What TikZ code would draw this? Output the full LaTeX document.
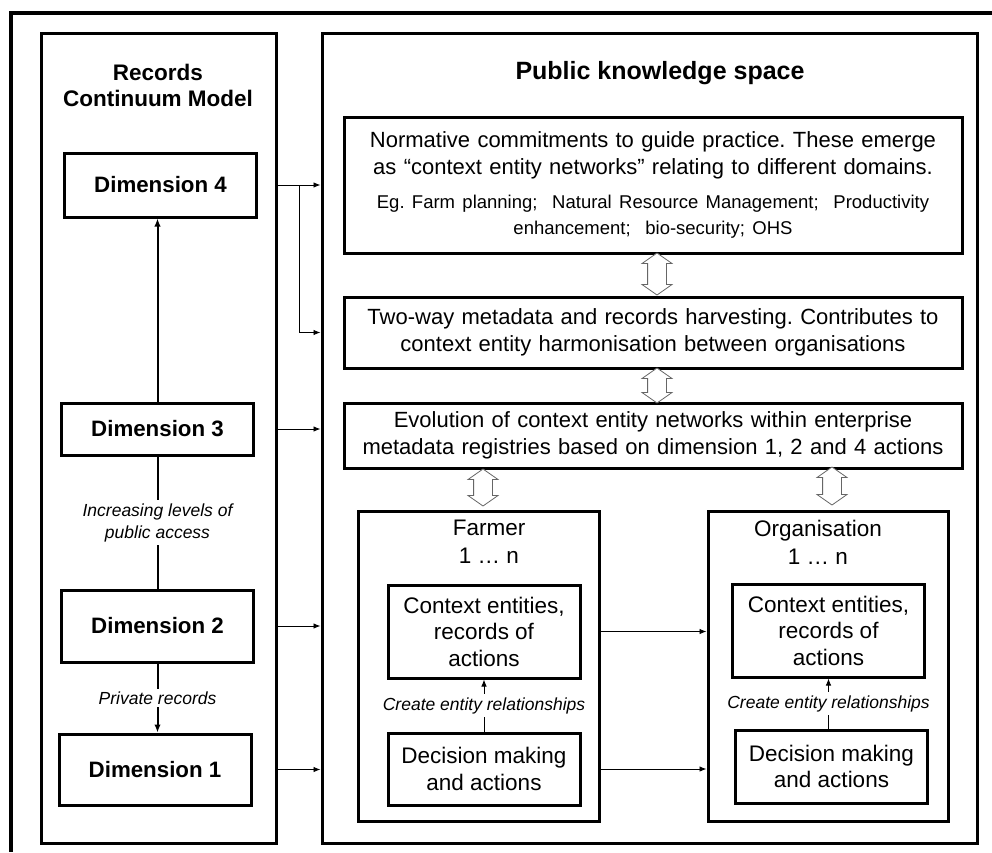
\documentclass[tikz,border=0pt]{standalone}
\usepackage{fontspec}
\setmainfont{Liberation Sans}
\usepackage{tikz}
\usetikzlibrary{shapes.arrows,arrows.meta}
\frenchspacing
\tikzstyle{Panel}=[rectangle, draw=black, line width=3]
\tikzstyle{Title}=[align=center, font=\fontsize{22.5}{26}\selectfont\bfseries]
\tikzstyle{Dim}=[rectangle, draw=black, line width=3, minimum width=192, font=\fontsize{22.3}{26}\selectfont\bfseries]
\tikzstyle{Block}=[rectangle, draw=black, line width=3, minimum width=618, text width=610, align=center, font=\fontsize{22}{26.5}\selectfont]
\tikzstyle{Inner}=[rectangle, draw=black, line width=3, minimum width=192, align=center, font=\fontsize{22.5}{26.5}\selectfont]
\tikzstyle{Head}=[align=center, font=\fontsize{22.5}{28}\selectfont]
\tikzstyle{Note}=[align=center, fill=white, inner sep=3, font=\fontsize{17.5}{22}\selectfont\itshape]
\tikzstyle{Swap}=[double arrow, draw=black!60, line width=0.8, fill=white, inner xsep=0, inner ysep=9, double arrow head extend=5.5, double arrow tip angle=110, rotate=90]
\tikzstyle{Feed}=[-{Latex[length=7,width=5.5]}, line width=0.9]
\tikzstyle{Up}=[-{Latex[length=8,width=6.5]}, line width=2]

\begin{document}
\begin{tikzpicture}[x=1pt, y=-1pt]
    \useasboundingbox (0,0) rectangle (992,852);
    % frame round the whole figure, it runs off the page on the right and below
    \draw[line width=4] (992,13) -| (11,852);

    \path
    (158.5,438) node[Panel, minimum width=235, minimum height=810] (rcm) {}
    (649.5,438) node[Panel, minimum width=655, minimum height=810] (pks) {}
    (158,85) node[Title] (rcmtitle) {Records\\Continuum Model}
    (660,73) node[Title, font=\fontsize{25}{30}\selectfont\bfseries] (pkstitle) {Public knowledge space};

    % the four dimensions
    \path
    (160.5,185) node[Dim, minimum height=64] (dim4) {Dimension 4}
    (157.5,429) node[Dim, minimum height=52] (dim3) {Dimension 3}
    (157.5,626) node[Dim, minimum height=72] (dim2) {Dimension 2}
    (155,769.5) node[Dim, minimum height=71] (dim1) {Dimension 1};

    \draw[Up] (dim3.north) -- (dim3.north |- dim4.south);
    \draw[line width=2] (dim2.north) -- node[Note] {Increasing levels of\\public access} (dim3.south);
    \draw[Up] (dim2.south) -- node[Note] {Private records} (dim2.south |- dim1.north);

    % public knowledge space
    \path
    (653,185) node[Block, minimum height=136] (norm) {Normative commitments to guide practice. These emerge\\as “context entity networks” relating to different domains.\\[10pt]{\fontsize{18.5}{24}\selectfont Eg. Farm planning;\ \ Natural Resource Management;\ \ Productivity\\enhancement;\ \ bio-security; OHS}}
    (653,332.5) node[Block, minimum height=71] (harvest) {Two-way metadata and records harvesting. Contributes to\\context entity harmonisation between organisations}
    (653,435.5) node[Block, minimum height=65] (evol) {Evolution of context entity networks within enterprise\\metadata registries based on dimension 1, 2 and 4 actions};

    \path
    (478.5,666) node[Panel, minimum width=241, minimum height=310] (farmer) {}
    (489,542) node[Head] (farmerhead) {Farmer\\1 … n}
    (484,631.5) node[Inner, minimum height=93] (fctx) {Context entities,\\records of\\actions}
    (484,769) node[Inner, minimum height=72] (fdec) {Decision making\\and actions}
    (828,666) node[Panel, minimum width=240, minimum height=310] (org) {}
    (818,542) node[Head] (orghead) {Organisation\\1 … n}
    (828.5,630.5) node[Inner, minimum height=93] (octx) {Context entities,\\records of\\actions}
    (831.5,766.5) node[Inner, minimum height=73] (odec) {Decision making\\and actions};

    % two-way exchange
    \path
    (657,274) node[Swap, minimum height=42] (swap1) {}
    (657,385.5) node[Swap, minimum height=35] (swap2) {}
    (483,487.5) node[Swap, minimum height=37] (swap3) {}
    (832,486) node[Swap, minimum height=38] (swap4) {};

    \draw[Feed] (rcm.east |- dim4) -- (pks.west |- dim4);
    \coordinate (branch) at (299,185);
    \draw[Feed] (branch) |- (pks.west |- harvest);
    \draw[Feed] (rcm.east |- dim3) -- (pks.west |- dim3);
    \draw[Feed] (rcm.east |- dim2) -- (pks.west |- dim2);
    \draw[Feed] (rcm.east |- dim1) -- (pks.west |- dim1);

    \draw[Feed] (farmer.east |- fctx) -- (org.west |- fctx);
    \draw[Feed] (farmer.east |- fdec) -- (org.west |- fdec);
    \draw[Feed] (fdec) -- node[Note] {Create entity relationships} (fctx);
    \draw[Feed] (octx.south |- odec.north) -- node[Note] {Create entity relationships} (octx.south);
\end{tikzpicture}
\end{document}
